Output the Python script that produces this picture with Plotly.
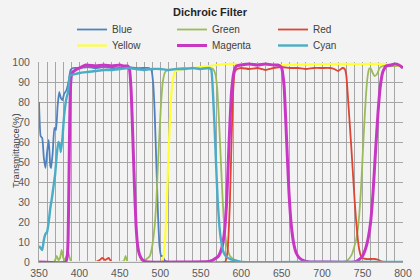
import plotly.graph_objects as go

# ---------------- data ----------------
blue_x = [350, 352, 354, 356, 358, 360, 362, 364, 365, 367, 369, 371, 373, 375, 377, 379, 381, 384, 387, 389, 392,
          400, 410, 420, 430, 440, 450, 460, 470, 480, 486, 489, 491, 493, 495, 497, 499, 501, 503, 505, 510, 600, 800]
blue_y = [80, 63, 62, 52, 47, 55, 61, 48, 47, 55, 67, 66, 78, 85, 82, 81, 84, 86, 91, 96, 97,
          97, 97.5, 97, 97.5, 97, 97, 97.5, 97, 97, 97, 96, 90, 75, 50, 25, 8, 3, 3, 1, 0, 0, 0]

green_x = [350, 368, 370, 372, 374, 376, 378, 380, 382, 384, 386, 388, 390, 395, 450, 455, 457, 459, 462, 470,
           478, 483, 487, 490, 493, 495, 497, 499, 501, 503, 506, 510, 520, 530, 540, 550, 560, 565, 568, 570,
           572, 574, 576, 578, 580, 583, 586, 590, 595, 600, 700, 725, 730, 734, 737, 740, 742, 744, 746, 748,
           750, 752, 754, 756, 758, 760, 762, 765, 768, 771, 775, 780, 790, 800]
green_y = [0, 0, 1, 3, 1, 2, 6, 2, 1, 3, 5, 2, 0, 0, 0, 0.5, 3, 0.5, 0, 0,
           0.5, 1.5, 3, 8, 18, 30, 48, 65, 80, 90, 95, 96, 96.5, 97, 97, 97, 97, 96.5, 94, 88,
           75, 58, 40, 24, 14, 7, 3, 1.5, 0.5, 0, 0, 0, 0.5, 2, 4, 8, 11, 16, 24, 36,
           52, 68, 82, 92, 96.5, 97, 95, 93, 94, 97, 98, 98, 98, 98]

red_x = [350, 420, 425, 428, 432, 436, 440, 450, 580, 583, 586, 588, 590, 592, 595, 600, 610, 620, 630, 640,
         650, 660, 670, 680, 690, 700, 710, 715, 720, 725, 728, 730, 732, 734, 736, 738, 740, 742, 744, 746,
         748, 750, 755, 760, 765, 770, 773, 776, 800]
red_y = [0, 0, 1, 2, 1, 2, 0, 0, 0, 5, 30, 60, 85, 95, 96.5, 97, 96.5, 97, 96, 97,
         97.5, 97, 97, 96.5, 97, 97, 97, 96.5, 95.5, 97, 96.5, 93, 82, 70, 58, 45, 32, 21, 12, 6,
         3, 2, 1.5, 1.5, 1.5, 1, 0.3, 0, 0]

yellow_x = [350, 400, 450, 500, 502, 504, 506, 508, 510, 512, 514, 516, 518, 522, 530, 540, 550, 560, 570,
            580, 600, 650, 700, 750, 780, 800]
yellow_y = [0, 0, 0, 0, 0.5, 3, 12, 30, 52, 72, 86, 92, 95, 96, 96.5, 97, 97.5, 98, 98.5,
            99, 99, 98.5, 99, 99, 99, 98]

magenta_x = [350, 383, 385, 386, 387, 388, 389, 390, 392, 395, 400, 408, 420, 430, 440, 450, 455, 460, 462,
             464, 466, 468, 470, 472, 474, 477, 480, 485, 520, 560, 565, 569, 572, 576, 579, 582, 585, 588,
             591, 594, 600, 610, 620, 630, 640, 645, 648, 650, 653, 656, 659, 662, 665, 668, 672, 678, 685,
             700, 740, 745, 750, 754, 757, 760, 763, 766, 769, 772, 775, 779, 785, 790, 795, 800]
magenta_y = [0, 0, 3, 12, 40, 72, 88, 93, 95, 96, 97, 98.5, 98, 98.5, 98, 98.5, 98, 98, 96,
             85, 62, 38, 18, 8, 4, 1.5, 0.5, 0, 0, 0.3, 1, 2, 3, 7, 14, 30, 60, 85,
             95, 98, 98.5, 99, 98.5, 99, 98.5, 98.5, 98, 97, 88, 62, 35, 18, 9, 4.5, 2, 0.5, 0,
             0, 0, 1, 3, 7, 12, 20, 35, 55, 74, 88, 95, 98, 98.5, 99, 98.5, 97]

cyan_x = [350, 352, 354, 356, 358, 360, 362, 364, 366, 368, 370, 372, 374, 376, 377, 379, 381, 384, 386, 388,
          390, 395, 400, 410, 420, 430, 440, 450, 460, 470, 480, 490, 500, 510, 520, 530, 540, 550, 560, 563,
          565, 567, 569, 571, 573, 575, 578, 582, 586, 590, 595, 600, 700, 800]
cyan_y = [8, 7, 6, 11, 14, 15, 20, 27, 32, 38, 44, 54, 60, 58, 55, 62, 73, 82, 85, 93,
          93.5, 94, 94.5, 95, 95.5, 96, 96, 96.5, 97, 96.5, 96, 96.5, 96.5, 96, 96.5, 96.5, 97, 96.5, 97, 96,
          85, 68, 48, 30, 18, 11, 5, 2.5, 1.5, 1, 0.5, 0, 0, 0]

series_names = ["Blue", "Green", "Red", "Yellow", "Magenta", "Cyan"]
x_ticks = [350, 400, 450, 500, 550, 600, 650, 700, 750, 800]
y_ticks = [0, 10, 20, 30, 40, 50, 60, 70, 80, 90, 100]

title_text = "Dichroic Filter"
y_title = "Transmittance(%)"

# ---------------- figure ----------------
W, H = 420, 280
BG = "#f3f3f3"
GRID = "#a6a6a6"
FONT = "Liberation Sans, Arial, sans-serif"

data = [
    (blue_x, blue_y, "#4F81BD", 1.8),
    (green_x, green_y, "#9BBB59", 1.8),
    (red_x, red_y, "#DD4433", 1.8),
    (yellow_x, yellow_y, "#FFFF33", 2.2),
    (magenta_x, magenta_y, "#C837C4", 3.0),
    (cyan_x, cyan_y, "#4BACC6", 2.4),
]

# legend item placement: (left px, top px) in container coords
legend_pos = [(72, 15), (172, 15), (273, 15), (72, 31), (172, 31), (273, 31)]

fig = go.Figure()
layout_legends = {}
for i, ((xs, ys, col, lw), name) in enumerate(zip(data, series_names)):
    lid = "legend" if i == 0 else f"legend{i+1}"
    fig.add_trace(go.Scatter(x=xs, y=ys, mode="lines", name=name,
                             line=dict(color=col, width=lw, shape="spline", smoothing=0.4),
                             legend=lid))
    lx, ly = legend_pos[i]
    layout_legends[lid] = dict(
        x=lx / W, y=1 - ly / H, xref="container", yref="container",
        xanchor="left", yanchor="top", bgcolor="rgba(0,0,0,0)",
        borderwidth=0, font=dict(family=FONT, size=10, color="#404040"),
        itemwidth=30, tracegroupgap=0,
    )

fig.update_layout(
    width=W, height=H,
    margin=dict(l=39, r=17, t=62, b=18, pad=0, autoexpand=False),
    paper_bgcolor=BG, plot_bgcolor=BG,
    showlegend=True,
    title=dict(text="<b>" + title_text + "</b>", x=0.5, xanchor="center",
               y=1 - 12 / H, yanchor="middle", yref="container",
               font=dict(family=FONT, size=11, color="#262626")),
    font=dict(family=FONT, size=10, color="#595959"),
    **layout_legends,
)

fig.update_xaxes(
    range=[350, 800], tickvals=x_ticks, ticktext=[str(v) for v in x_ticks],
    showgrid=True, gridcolor=GRID, gridwidth=1,
    minor=dict(dtick=10, showgrid=True, gridcolor=GRID, gridwidth=1),
    showline=True, linecolor=GRID, linewidth=1, zeroline=False,
    tickfont=dict(family=FONT, size=10.5, color="#595959"),
    ticks="", ticklabelstandoff=1, mirror=False, automargin=False,
)
fig.update_yaxes(
    range=[0, 100], tickvals=y_ticks, ticktext=[str(v) for v in y_ticks],
    showgrid=True, gridcolor=GRID, gridwidth=1,
    showline=True, linecolor=GRID, linewidth=1, zeroline=False,
    tickfont=dict(family=FONT, size=10.5, color="#595959"),
    ticks="", ticklabelstandoff=6, automargin=False,
)

fig.add_annotation(text=y_title, textangle=-90, xref="paper", yref="paper",
                   x=-(39 - 15) / (W - 39 - 17), y=(262 - 151) / 200,
                   xanchor="center", yanchor="middle", showarrow=False,
                   font=dict(family=FONT, size=9.5, color="#404040"))

fig.write_html("out.html")
